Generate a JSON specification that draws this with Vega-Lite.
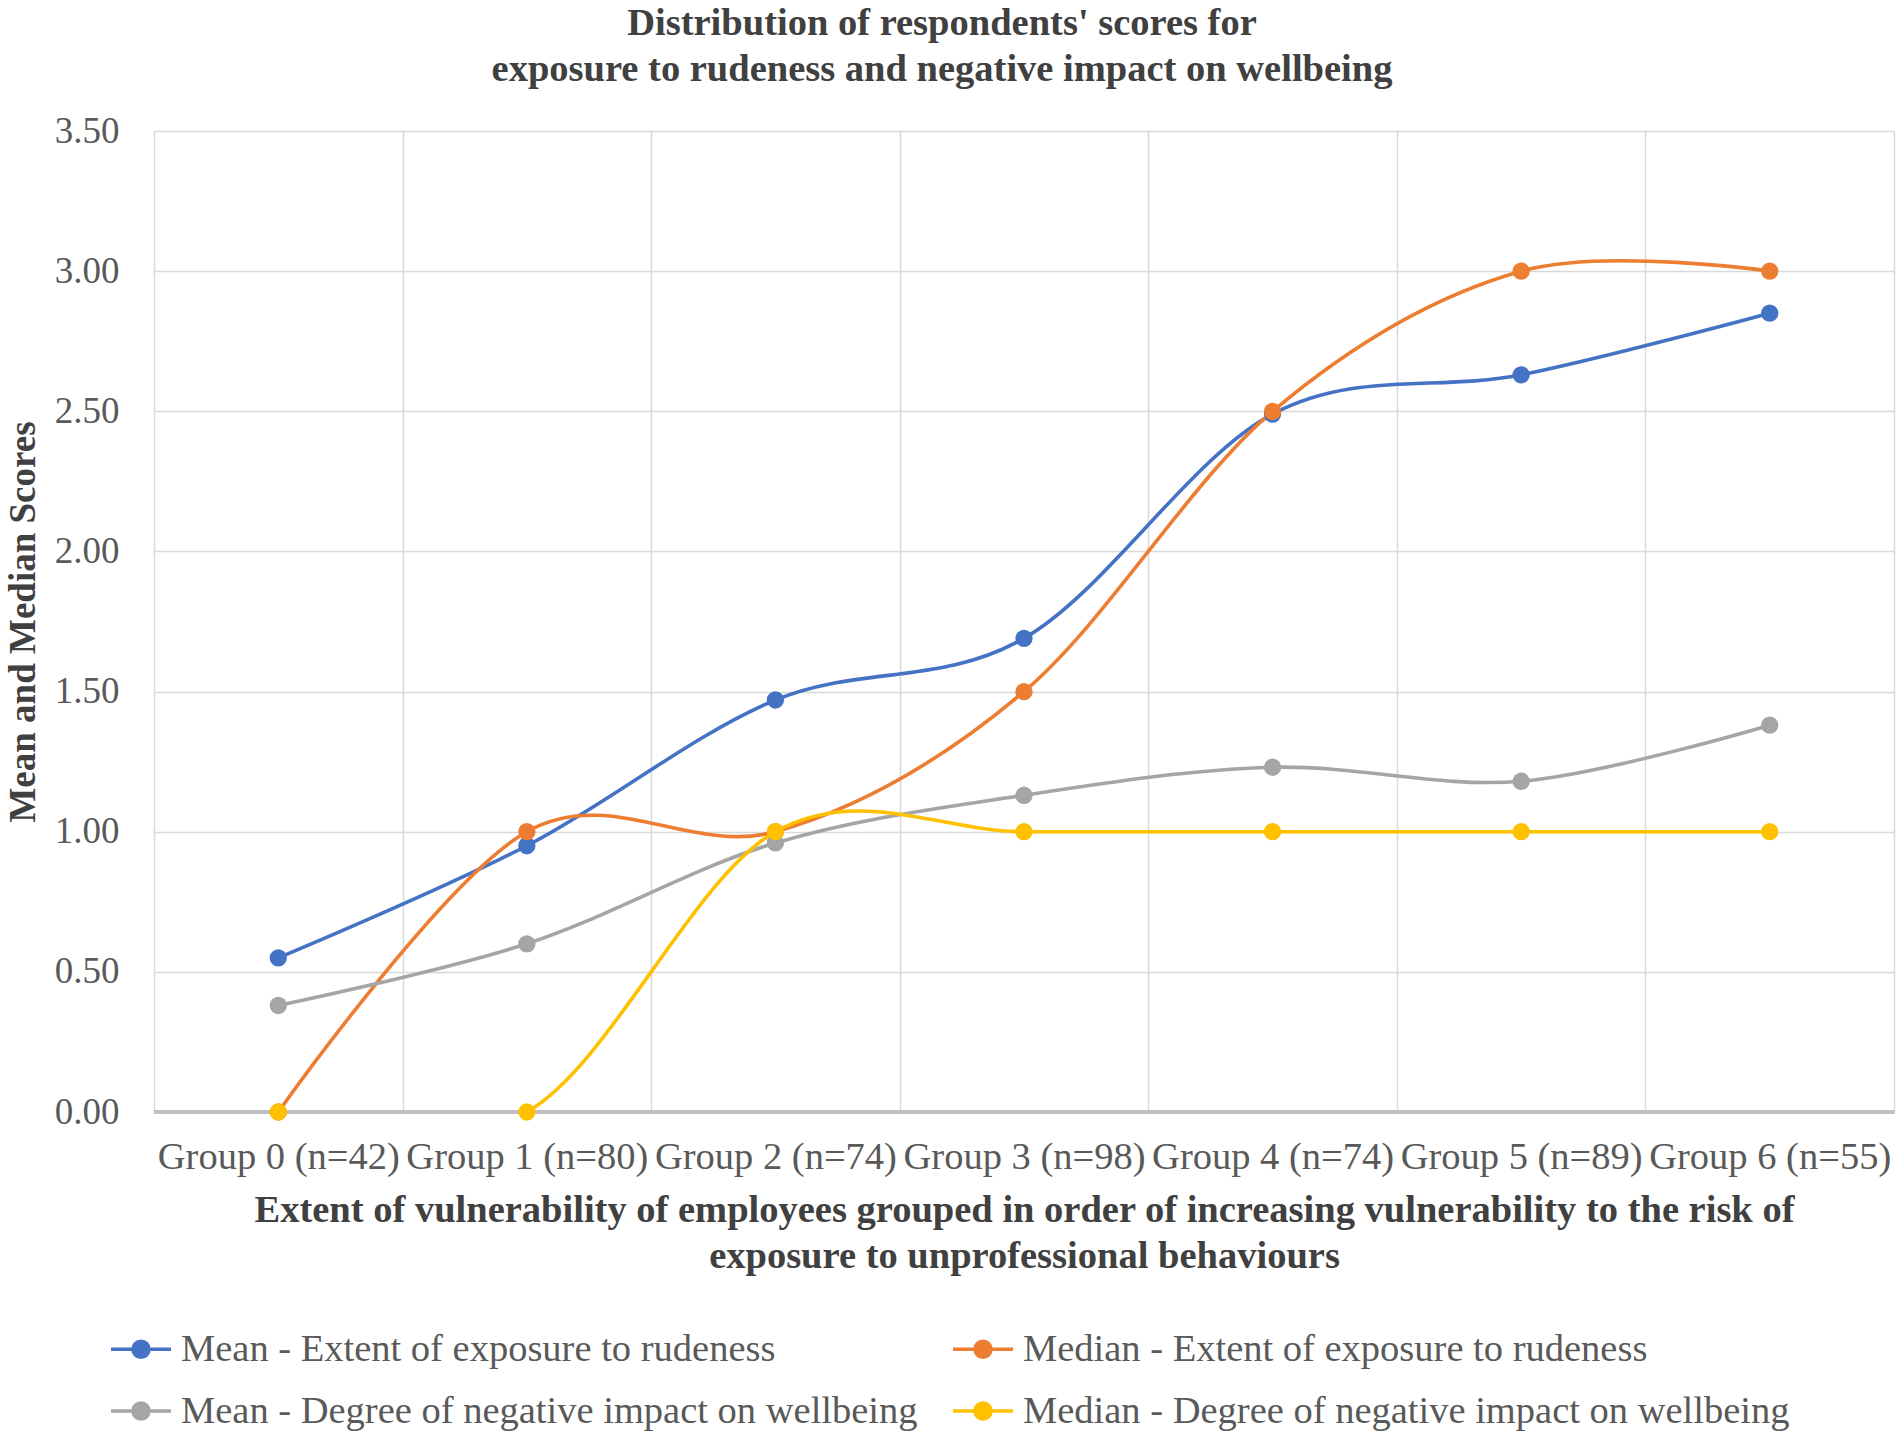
{
  "$schema": "https://vega.github.io/schema/vega-lite/v6.json",
  "width": 1740,
  "height": 981,
  "autosize": "none",
  "padding": {"left": 154, "top": 131, "right": 7, "bottom": 323},
  "background": "white",
  "title": {
    "text": ["Distribution of respondents' scores for", "exposure to rudeness and negative impact on wellbeing"],
    "font": "Liberation Serif",
    "fontSize": 38.5,
    "fontWeight": "bold",
    "color": "#404040",
    "anchor": "middle",
    "dx": -82,
    "offset": 23,
    "lineHeight": 46
  },
  "data": {
    "values": [
      {"group": "Group 0 (n=42)", "series": "Mean - Extent of exposure to rudeness", "value": 0.55},
      {"group": "Group 1 (n=80)", "series": "Mean - Extent of exposure to rudeness", "value": 0.95},
      {"group": "Group 2 (n=74)", "series": "Mean - Extent of exposure to rudeness", "value": 1.47},
      {"group": "Group 3 (n=98)", "series": "Mean - Extent of exposure to rudeness", "value": 1.69},
      {"group": "Group 4 (n=74)", "series": "Mean - Extent of exposure to rudeness", "value": 2.49},
      {"group": "Group 5 (n=89)", "series": "Mean - Extent of exposure to rudeness", "value": 2.63},
      {"group": "Group 6 (n=55)", "series": "Mean - Extent of exposure to rudeness", "value": 2.85},
      {"group": "Group 0 (n=42)", "series": "Median - Extent of exposure to rudeness", "value": 0},
      {"group": "Group 1 (n=80)", "series": "Median - Extent of exposure to rudeness", "value": 1},
      {"group": "Group 2 (n=74)", "series": "Median - Extent of exposure to rudeness", "value": 1},
      {"group": "Group 3 (n=98)", "series": "Median - Extent of exposure to rudeness", "value": 1.5},
      {"group": "Group 4 (n=74)", "series": "Median - Extent of exposure to rudeness", "value": 2.5},
      {"group": "Group 5 (n=89)", "series": "Median - Extent of exposure to rudeness", "value": 3},
      {"group": "Group 6 (n=55)", "series": "Median - Extent of exposure to rudeness", "value": 3},
      {"group": "Group 0 (n=42)", "series": "Mean - Degree of negative impact on wellbeing", "value": 0.38},
      {"group": "Group 1 (n=80)", "series": "Mean - Degree of negative impact on wellbeing", "value": 0.6},
      {"group": "Group 2 (n=74)", "series": "Mean - Degree of negative impact on wellbeing", "value": 0.96},
      {"group": "Group 3 (n=98)", "series": "Mean - Degree of negative impact on wellbeing", "value": 1.13},
      {"group": "Group 4 (n=74)", "series": "Mean - Degree of negative impact on wellbeing", "value": 1.23},
      {"group": "Group 5 (n=89)", "series": "Mean - Degree of negative impact on wellbeing", "value": 1.18},
      {"group": "Group 6 (n=55)", "series": "Mean - Degree of negative impact on wellbeing", "value": 1.38},
      {"group": "Group 0 (n=42)", "series": "Median - Degree of negative impact on wellbeing", "value": 0},
      {"group": "Group 1 (n=80)", "series": "Median - Degree of negative impact on wellbeing", "value": 0},
      {"group": "Group 2 (n=74)", "series": "Median - Degree of negative impact on wellbeing", "value": 1},
      {"group": "Group 3 (n=98)", "series": "Median - Degree of negative impact on wellbeing", "value": 1},
      {"group": "Group 4 (n=74)", "series": "Median - Degree of negative impact on wellbeing", "value": 1},
      {"group": "Group 5 (n=89)", "series": "Median - Degree of negative impact on wellbeing", "value": 1},
      {"group": "Group 6 (n=55)", "series": "Median - Degree of negative impact on wellbeing", "value": 1}
    ]
  },
  "encoding": {
    "x": {
      "field": "group",
      "type": "ordinal",
      "sort": null,
      "scale": {"type": "band", "paddingInner": 0, "paddingOuter": 0},
      "axis": {
        "title": ["Extent of vulnerability of employees grouped in order of increasing vulnerability to the risk of", "exposure to unprofessional behaviours"],
        "titleFont": "Liberation Serif",
        "titleFontSize": 38.5,
        "titleFontWeight": "bold",
        "titleColor": "#404040",
        "titleLineHeight": 46,
        "titlePadding": 16,
        "labelFont": "Liberation Serif",
        "labelFontSize": 38.5,
        "labelColor": "#595959",
        "labelAngle": 0,
        "labelPadding": 26,
        "labelLimit": 320,
        "labelOverlap": false,
        "labelBound": false,
        "ticks": false,
        "tickBand": "extent",
        "grid": true,
        "gridColor": "#D9D9D9",
        "gridWidth": 1.5,
        "domainColor": "#BFBFBF",
        "domainWidth": 2.5
      }
    },
    "y": {
      "field": "value",
      "type": "quantitative",
      "scale": {"domain": [0, 3.5], "nice": false},
      "axis": {
        "title": "Mean and Median Scores",
        "titleFont": "Liberation Serif",
        "titleFontSize": 37,
        "titleFontWeight": "bold",
        "titleColor": "#404040",
        "titlePadding": 12,
        "labelFont": "Liberation Serif",
        "labelFontSize": 37,
        "labelColor": "#595959",
        "labelPadding": 35,
        "values": [0, 0.5, 1, 1.5, 2, 2.5, 3, 3.5],
        "format": ".2f",
        "ticks": false,
        "domain": false,
        "gridColor": "#D9D9D9",
        "gridWidth": 1.5
      }
    },
    "color": {
      "field": "series",
      "type": "nominal",
      "scale": {
        "domain": [
          "Mean - Extent of exposure to rudeness",
          "Median - Extent of exposure to rudeness",
          "Mean - Degree of negative impact on wellbeing",
          "Median - Degree of negative impact on wellbeing"
        ],
        "range": ["#4472C4", "#ED7D31", "#A5A5A5", "#FFC000"]
      },
      "legend": {
        "title": null,
        "orient": "none",
        "direction": "horizontal",
        "legendX": -45,
        "legendY": 1186,
        "columns": 2,
        "columnPadding": 28,
        "rowPadding": 10,
        "symbolType": "M-1,0H1M-0.27,0A0.27,0.27 0 1,0 0.27,0A0.27,0.27 0 1,0 -0.27,0",
        "symbolSize": 3600,
        "symbolStrokeWidth": 3.4,
        "labelFont": "Liberation Serif",
        "labelFontSize": 38.5,
        "labelColor": "#595959",
        "labelOffset": 8,
        "labelLimit": 900,
        "encode": {
          "symbols": {
            "update": {
              "fill": {"scale": "color", "field": "value"},
              "stroke": {"scale": "color", "field": "value"}
            }
          }
        }
      }
    }
  },
  "layer": [
    {
      "mark": {"type": "line", "interpolate": "cardinal", "strokeWidth": 3.6, "clip": true}
    },
    {
      "mark": {"type": "rule", "color": "#BFBFBF", "strokeWidth": 2.5},
      "encoding": {
        "x": null,
        "color": null,
        "y": {"datum": 0, "type": "quantitative"}
      }
    },
    {
      "mark": {"type": "point", "filled": true, "size": 300, "opacity": 1}
    }
  ]
}
